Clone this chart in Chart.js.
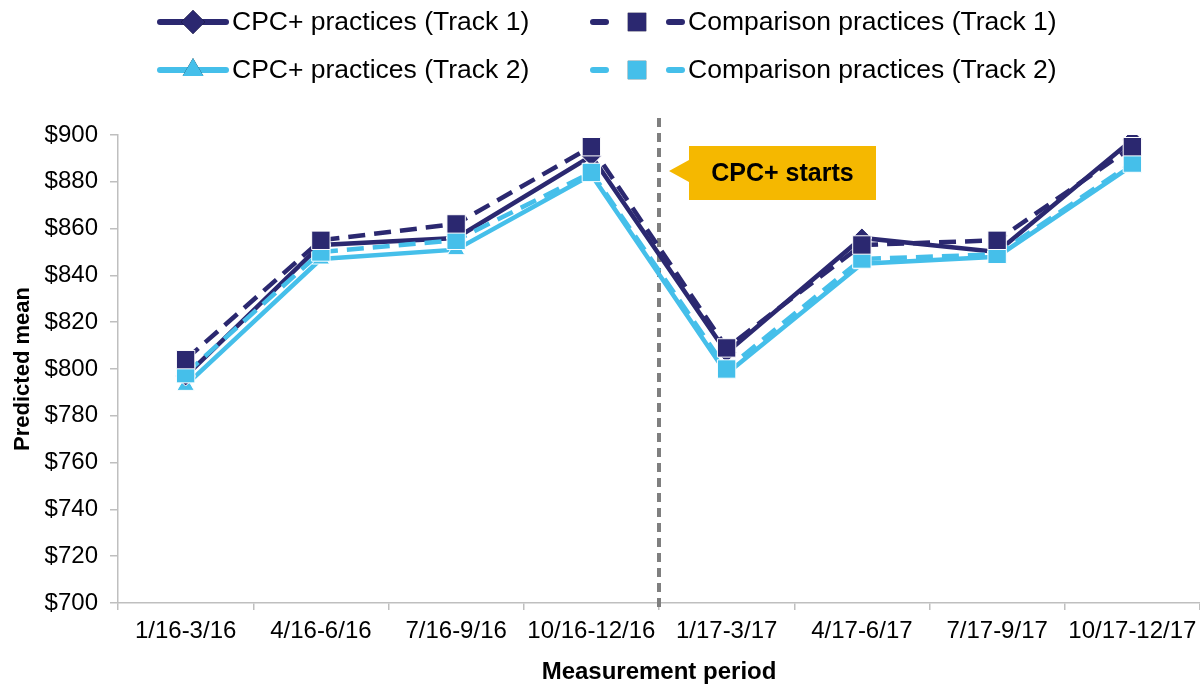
<!DOCTYPE html>
<html>
<head>
<meta charset="utf-8">
<script src="https://cdn.jsdelivr.net/npm/chart.js@4.4.1/dist/chart.umd.min.js"></script>
<style>
  body { margin: 0; background: #fff; }
  #wrap { width: 1200px; height: 685px; }
</style>
</head>
<body>
<div id="wrap"><canvas id="chart" width="1200" height="685"></canvas></div>
<script>
const periods = ['1/16-3/16', '4/16-6/16', '7/16-9/16', '10/16-12/16', '1/17-3/17', '4/17-6/17', '7/17-9/17', '10/17-12/17'];
const cpcTrack1 = [797, 853, 856, 891, 807, 856, 850, 898];
const compTrack1 = [804, 855, 862, 895, 809, 853, 855, 895];
const cpcTrack2 = [793, 847, 851, 883, 798, 845, 848, 887];
const compTrack2 = [798, 850, 855, 884, 800, 847, 849, 888];
const yTicks = [700, 720, 740, 760, 780, 800, 820, 840, 860, 880, 900];

const NAVY = '#2b2870';
const LIGHT = '#45bfea';
const FONT = "'Liberation Sans', Arial, sans-serif";

// legend drawn by hand: 2 x 2 grid
const legendPlugin = {
  id: 'customLegend',
  afterDraw(chart) {
    const ctx = chart.ctx;
    const items = [
      { ds: 0, x1: 157, x2: 229, mx: 193, tx: 232, y: 22 },
      { ds: 1, x1: 590, x2: 685, mx: 637, tx: 688, y: 22 },
      { ds: 2, x1: 157, x2: 229, mx: 193, tx: 232, y: 70 },
      { ds: 3, x1: 590, x2: 685, mx: 637, tx: 688, y: 70 }
    ];
    ctx.save();
    items.forEach(it => {
      const d = chart.data.datasets[it.ds];
      ctx.strokeStyle = d.borderColor;
      ctx.lineWidth = 6;
      ctx.lineCap = 'round';
      ctx.beginPath();
      if (d.borderDash) {
        ctx.moveTo(it.x1 + 3, it.y); ctx.lineTo(it.x1 + 16, it.y);
        ctx.moveTo(it.x2 - 16, it.y); ctx.lineTo(it.x2 - 3, it.y);
      } else {
        ctx.moveTo(it.x1 + 3, it.y); ctx.lineTo(it.x2 - 3, it.y);
      }
      ctx.stroke();
      Chart.helpers.drawPoint(ctx, {
        pointStyle: d.pointStyle, radius: d.pointStyle === 'rect' ? 13 : 12,
        borderWidth: 0
      }, it.mx, it.y);
      ctx.fillStyle = d.borderColor;
      ctx.fill();
      ctx.fillStyle = '#000';
      ctx.font = '26.5px ' + FONT;
      ctx.textBaseline = 'middle';
      ctx.textAlign = 'left';
      ctx.fillText(d.label, it.tx, it.y + 1);
    });
    ctx.restore();
  }
};

const startPlugin = {
  id: 'startLine',
  beforeDatasetsDraw(chart) {
    const ctx = chart.ctx;
    const xs = chart.scales.x;
    const lx = (xs.getPixelForValue(3) + xs.getPixelForValue(4)) / 2;
    ctx.save();
    ctx.strokeStyle = '#7f7f7f';
    ctx.lineWidth = 4;
    ctx.setLineDash([9, 6]);
    ctx.beginPath();
    ctx.moveTo(lx, 118);
    ctx.lineTo(lx, 612);
    ctx.stroke();
    ctx.setLineDash([]);
    // callout box
    const bx = lx + 30, by = 146, bw = 187, bh = 54;
    ctx.fillStyle = '#f5b800';
    ctx.beginPath();
    ctx.moveTo(bx, by);
    ctx.lineTo(bx + bw, by);
    ctx.lineTo(bx + bw, by + bh);
    ctx.lineTo(bx, by + bh);
    ctx.lineTo(bx, by + 36);
    ctx.lineTo(lx + 10, by + 25);
    ctx.lineTo(bx, by + 14);
    ctx.closePath();
    ctx.fill();
    ctx.fillStyle = '#000';
    ctx.font = 'bold 25px ' + FONT;
    ctx.textAlign = 'center';
    ctx.textBaseline = 'middle';
    ctx.fillText('CPC+ starts', bx + bw / 2, by + bh / 2 + 1);
    ctx.restore();
  }
};

new Chart(document.getElementById('chart'), {
  type: 'line',
  data: {
    labels: periods,
    datasets: [
      {
        label: 'CPC+ practices (Track 1)', data: cpcTrack1,
        borderColor: NAVY, backgroundColor: NAVY, borderWidth: 4.5,
        pointStyle: 'rectRot', pointRadius: 10, pointBorderColor: '#fff', pointBorderWidth: 1,
        order: 2
      },
      {
        label: 'Comparison practices (Track 1)', data: compTrack1,
        borderColor: NAVY, backgroundColor: NAVY, borderWidth: 4.5, borderDash: [17, 9],
        pointStyle: 'rect', pointRadius: 13, pointBorderColor: '#fff', pointBorderWidth: 1,
        order: 0
      },
      {
        label: 'CPC+ practices (Track 2)', data: cpcTrack2,
        borderColor: LIGHT, backgroundColor: LIGHT, borderWidth: 4.5,
        pointStyle: 'triangle', pointRadius: 10, pointBorderColor: '#fff', pointBorderWidth: 1,
        order: 3
      },
      {
        label: 'Comparison practices (Track 2)', data: compTrack2,
        borderColor: LIGHT, backgroundColor: LIGHT, borderWidth: 4.5, borderDash: [17, 9],
        pointStyle: 'rect', pointRadius: 13, pointBorderColor: '#fff', pointBorderWidth: 1,
        order: 1
      }
    ]
  },
  options: {
    responsive: false,
    animation: false,
    layout: { autoPadding: false, padding: { top: 135, right: 0, bottom: 0, left: 0 } },
    plugins: { legend: { display: false }, tooltip: { enabled: false } },
    scales: {
      x: {
        offset: true,
        grid: { display: true, offset: true, drawOnChartArea: false, tickLength: 7, color: '#bfbfbf', lineWidth: 1.5 },
        border: { color: '#bfbfbf', width: 1.5 },
        ticks: { color: '#000', font: { family: FONT, size: 24 }, padding: 7, maxRotation: 0, autoSkip: false },
        title: { display: true, text: 'Measurement period', color: '#000', font: { family: FONT, size: 24, weight: 'bold' }, padding: { top: 0, bottom: -2 } },
        afterFit: s => { s.height = 82; s.paddingLeft = 0; s.paddingRight = 0; }
      },
      y: {
        min: 700, max: 900,
        afterBuildTicks: s => { s.ticks = yTicks.map(v => ({ value: v })); },
        grid: { display: true, drawOnChartArea: false, tickLength: 8, color: '#bfbfbf', lineWidth: 1.5 },
        border: { color: '#bfbfbf', width: 1.5 },
        ticks: { color: '#000', font: { family: FONT, size: 24 }, padding: 12, callback: v => '$' + v },
        title: { display: true, text: 'Predicted mean', color: '#000', font: { family: FONT, size: 22, weight: 'bold' }, padding: { top: 10, bottom: 0 } },
        afterFit: s => { s.width = 118; }
      }
    }
  },
  plugins: [startPlugin, legendPlugin]
});
</script>
</body>
</html>
